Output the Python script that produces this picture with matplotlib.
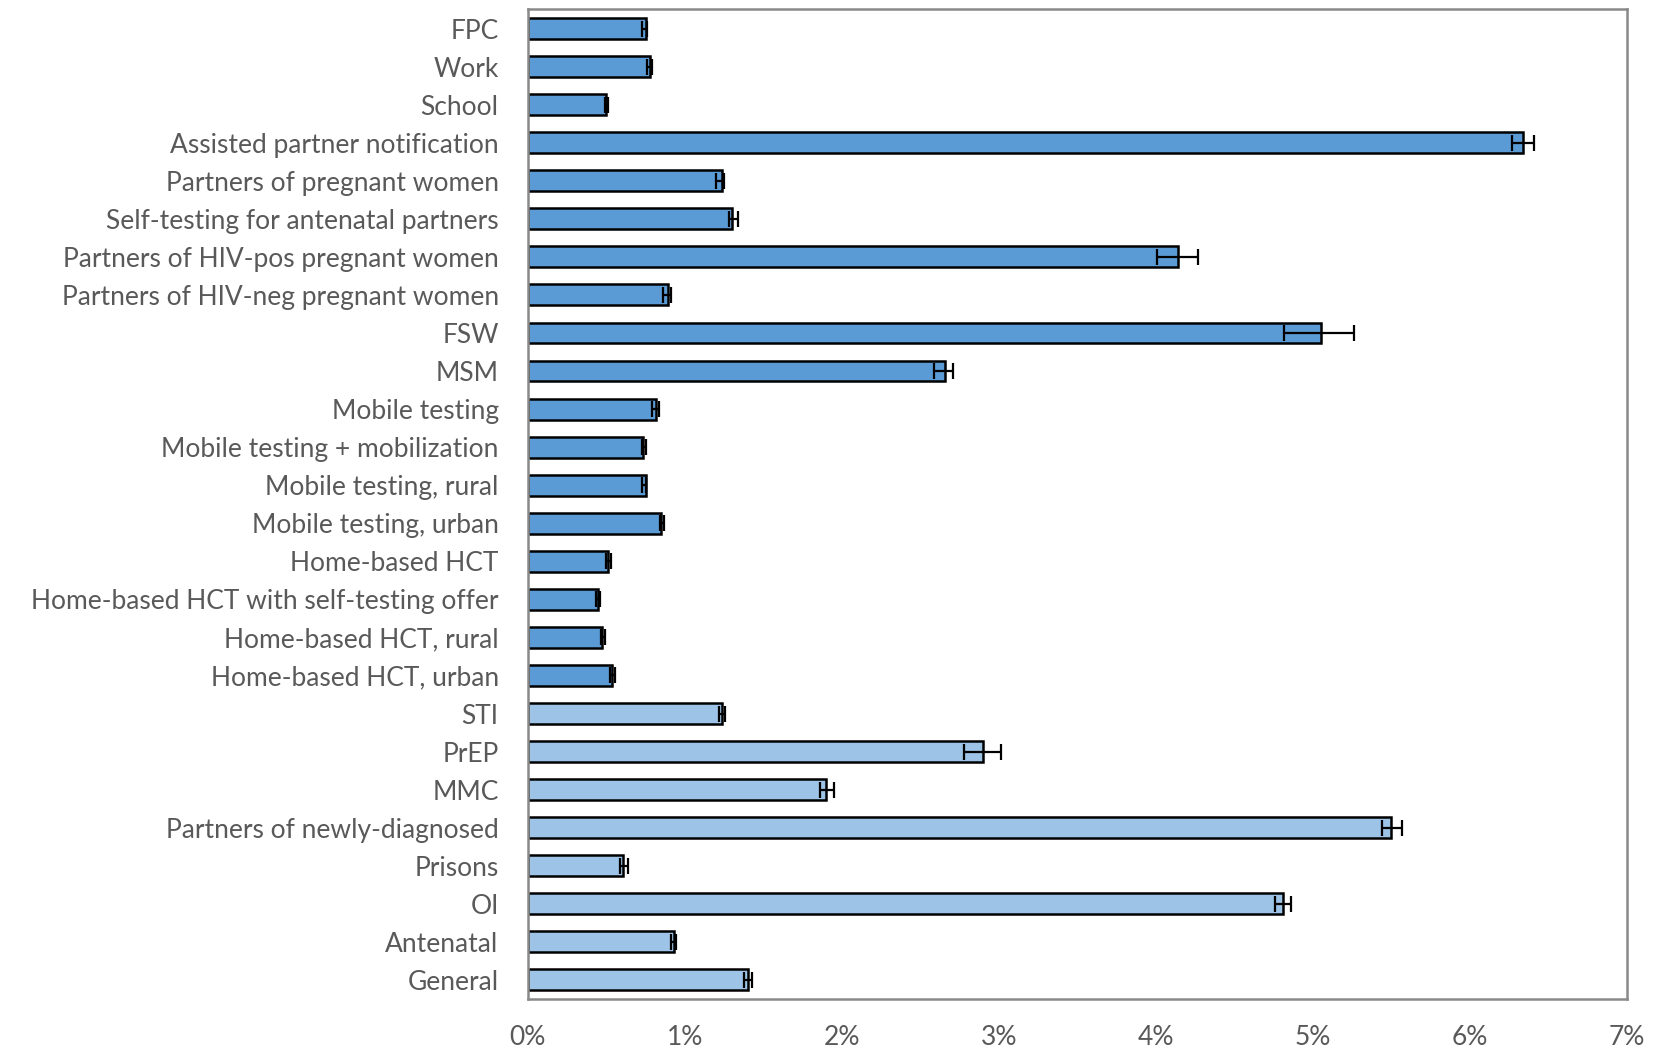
import matplotlib
matplotlib.use("Agg")
import matplotlib.pyplot as plt
import numpy as np

# Testing strategies, listed top to bottom
categories = [
    "FPC", "Work", "School", "Assisted partner notification",
    "Partners of pregnant women", "Self-testing for antenatal partners",
    "Partners of HIV-pos pregnant women", "Partners of HIV-neg pregnant women",
    "FSW", "MSM", "Mobile testing", "Mobile testing + mobilization",
    "Mobile testing, rural", "Mobile testing, urban", "Home-based HCT",
    "Home-based HCT with self-testing offer", "Home-based HCT, rural",
    "Home-based HCT, urban", "STI", "PrEP", "MMC",
    "Partners of newly-diagnosed", "Prisons", "OI", "Antenatal", "General",
]

# Yield (%) and interval bounds (%)
values = [0.75, 0.78, 0.50, 6.34, 1.235, 1.30, 4.14, 0.895, 5.05, 2.66,
          0.815, 0.735, 0.75, 0.85, 0.51, 0.445, 0.475, 0.537,
          1.238, 2.90, 1.898, 5.50, 0.607, 4.81, 0.93, 1.40]
lower = [0.73, 0.76, 0.49, 6.27, 1.20, 1.28, 4.01, 0.86, 4.82, 2.59,
         0.79, 0.725, 0.73, 0.84, 0.50, 0.435, 0.465, 0.525,
         1.217, 2.78, 1.862, 5.44, 0.586, 4.76, 0.909, 1.376]
upper = [0.76, 0.79, 0.51, 6.41, 1.25, 1.34, 4.27, 0.915, 5.265, 2.71,
         0.835, 0.75, 0.75, 0.865, 0.527, 0.46, 0.49, 0.556,
         1.253, 3.015, 1.949, 5.57, 0.639, 4.86, 0.947, 1.43]
# Strategy group: targeted outreach vs. facility-based
groups = ["targeted"] * 18 + ["facility"] * 8

group_colors = {"targeted": "#5B9BD5", "facility": "#9DC3E6"}
xticks = [0, 1, 2, 3, 4, 5, 6, 7]
xticklabels = [f"{t}%" for t in xticks]

plt.rcParams["font.family"] = ["Lato", "DejaVu Sans"]

fig = plt.figure(figsize=(16.65, 10.53), dpi=100)
ax = fig.add_axes([0.317, 0.0513, 0.660, 0.9397])

y = np.arange(len(categories))
vals = np.array(values)
xerr = np.vstack([vals - np.array(lower), np.array(upper) - vals])
colors = [group_colors[g] for g in groups]

ax.barh(y, vals, height=0.55, color=colors, edgecolor="black",
        linewidth=1.8, zorder=2)
ax.errorbar(vals, y, xerr=xerr, fmt="none", ecolor="black",
            elinewidth=1.6, capsize=5.5, capthick=1.6, zorder=3)

ax.set_ylim(len(categories) - 0.5, -0.5)
ax.set_xlim(0, 7)
ax.set_yticks(y)
ax.set_yticklabels(categories)
ax.set_xticks(xticks)
ax.set_xticklabels(xticklabels)

ax.tick_params(axis="both", length=0, labelsize=19, colors="#595959")
ax.tick_params(axis="y", pad=21)
ax.tick_params(axis="x", pad=19)

for side in ["left", "right", "top", "bottom"]:
    ax.spines[side].set_color("#898989")
    ax.spines[side].set_linewidth(1.8)

fig.savefig("out.png", dpi=100, facecolor="white")
